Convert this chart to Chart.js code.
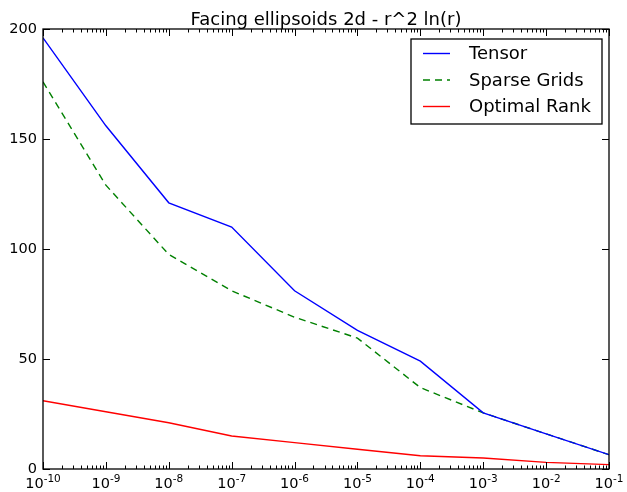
<!DOCTYPE html>
<html>
<head>
<meta charset="utf-8">
<script src="https://cdn.jsdelivr.net/npm/chart.js@4"></script>
<style>
  body { margin: 0; background: #fff; }
  #wrap { width: 627px; height: 492px; }
</style>
</head>
<body>
<div id="wrap"><canvas id="myChart" width="627" height="492"></canvas></div>
<script>
// tolerance values on the x axis
let tolerances = [1e-10, 1e-9, 1e-8, 1e-7, 1e-6, 1e-5, 1e-4, 1e-3, 1e-2, 1e-1]
let tensor = [196, 156, 121, 110, 81, 63, 49, 25.5, 16, 6.5]
let sparseGrids = [176, 129, 97.5, 81, 69, 59.5, 37, 25.5, 16, 6.5]
let optimalRank = [31, 26, 21, 15, 12, 9, 6, 5, 3, 2]
let yTicks = [0, 50, 100, 150, 200]
let chartTitle = 'Facing ellipsoids 2d - r^2 ln(r)'

function points(values) {
    return values.map((v, i) => ({ x: tolerances[i], y: v }))
}

// frame, inward ticks, title and 10^n labels like matplotlib classic
let frameTicks = {
    id: 'frameTicks',
    afterDraw(chart) {
        let c = chart.ctx
        let a = chart.chartArea
        let xs = chart.scales.x
        let ys = chart.scales.y
        c.save()
        c.strokeStyle = '#000'
        c.lineWidth = 1
        c.beginPath()
        for (let e = -10; e <= -1; e++) {
            for (let m = 1; m <= 9; m++) {
                let v = m * Math.pow(10, e)
                if (e == -1 && m > 1) break
                let px = Math.round(xs.getPixelForValue(v)) + 0.5
                let len = m == 1 ? 7 : 3.5
                c.moveTo(px, a.bottom); c.lineTo(px, a.bottom - len)
                c.moveTo(px, a.top); c.lineTo(px, a.top + len)
            }
        }
        yTicks.forEach(t => {
            let py = Math.round(ys.getPixelForValue(t)) + 0.5
            c.moveTo(a.left, py); c.lineTo(a.left + 7, py)
            c.moveTo(a.right, py); c.lineTo(a.right - 7, py)
        })
        c.stroke()
        c.lineWidth = 1.3
        c.strokeRect(a.left, a.top, a.right - a.left, a.bottom - a.top)

        // title
        c.fillStyle = '#000'
        c.font = '18px "DejaVu Sans"'
        c.textAlign = 'center'
        c.textBaseline = 'alphabetic'
        c.fillText(chartTitle, (a.left + a.right) / 2, 25)

        // x labels 10^n
        tolerances.forEach(v => {
            let e = String(Math.round(Math.log10(v)))
            let px = xs.getPixelForValue(v)
            c.font = '14.5px "DejaVu Sans"'
            let w1 = c.measureText('10').width
            c.font = '10.5px "DejaVu Sans"'
            let w2 = c.measureText(e).width
            let x0 = px - (w1 + w2) / 2
            c.textAlign = 'left'
            c.font = '14.5px "DejaVu Sans"'
            c.fillText('10', x0, 488)
            c.font = '10.5px "DejaVu Sans"'
            c.fillText(e, x0 + w1, 482)
        })
        c.restore()
    }
}

// legend box in the upper right corner
let boxLegend = {
    id: 'boxLegend',
    afterDraw(chart) {
        let c = chart.ctx
        let a = chart.chartArea
        let x0 = a.right - 198, y0 = a.top + 10
        c.save()
        c.fillStyle = '#fff'
        c.fillRect(x0, y0, 191, 85)
        c.strokeStyle = '#000'
        c.lineWidth = 1.3
        c.strokeRect(x0, y0, 191, 85)
        c.font = '18px "DejaVu Sans"'
        c.textBaseline = 'middle'
        chart.data.datasets.forEach((ds, i) => {
            let y = y0 + 14.5 + i * 26.5
            c.strokeStyle = ds.borderColor
            c.lineWidth = ds.borderWidth
            c.setLineDash(ds.borderDash || [])
            c.beginPath()
            c.moveTo(x0 + 12, y); c.lineTo(x0 + 39, y)
            c.stroke()
            c.setLineDash([])
            c.fillStyle = '#000'
            c.fillText(ds.label, x0 + 58, y + 1)
        })
        c.restore()
    }
}

let ctx = document.getElementById('myChart').getContext('2d')
new Chart(ctx, {
    type: 'line',
    data: {
        datasets: [
            { label: 'Tensor', data: points(tensor), borderColor: '#0000ff', borderWidth: 1.4 },
            { label: 'Sparse Grids', data: points(sparseGrids), borderColor: '#008000', borderWidth: 1.4, borderDash: [7, 5] },
            { label: 'Optimal Rank', data: points(optimalRank), borderColor: '#ff0000', borderWidth: 1.4 }
        ]
    },
    options: {
        responsive: false,
        animation: false,
        elements: { point: { radius: 0 }, line: { tension: 0, fill: false } },
        layout: { padding: { left: 0, right: 18, top: 29, bottom: 0 } },
        plugins: {
            legend: { display: false },
            tooltip: { enabled: false },
            title: { display: false }
        },
        scales: {
            x: {
                type: 'logarithmic',
                min: 1e-10,
                max: 1e-1,
                afterBuildTicks: s => { s.ticks = tolerances.map(v => ({ value: v })) },
                afterFit: s => { s.height = 23 },
                grid: { display: false },
                border: { display: false },
                ticks: { display: false }
            },
            y: {
                min: 0,
                max: 200,
                afterBuildTicks: s => { s.ticks = yTicks.map(v => ({ value: v })) },
                afterFit: s => { s.width = 43 },
                grid: { display: false, drawTicks: false },
                border: { display: false },
                ticks: {
                    color: '#000',
                    padding: 6,
                    font: { family: 'DejaVu Sans', size: 14.5 }
                }
            }
        }
    },
    plugins: [frameTicks, boxLegend]
})
</script>
</body>
</html>
